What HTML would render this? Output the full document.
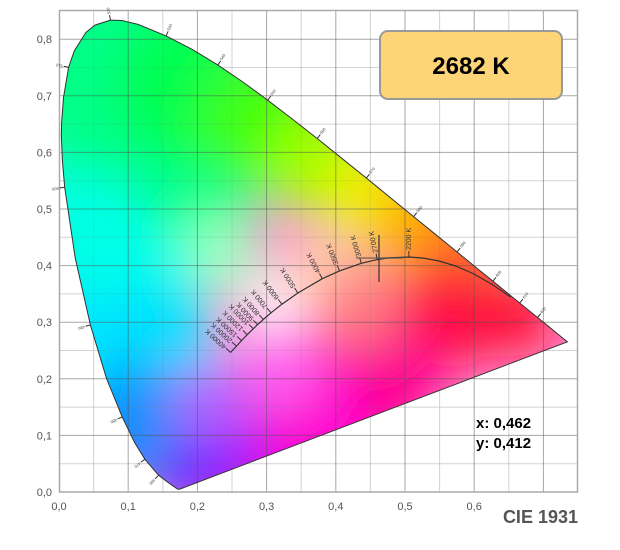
<!DOCTYPE html>
<html><head><meta charset="utf-8"><style>
html,body{margin:0;padding:0;background:#fff;}
svg{display:block;font-family:"Liberation Sans",sans-serif;}
</style></head><body>
<svg id="s" width="620" height="550" viewBox="0 0 620 550" xmlns="http://www.w3.org/2000/svg">
<defs>
<filter id="bl" x="-50%" y="-50%" width="200%" height="200%"><feGaussianBlur stdDeviation="24"/></filter>
<clipPath id="cp"><path id="cpp" d=""/></clipPath>
</defs>
<rect x="0" y="0" width="620" height="550" fill="#fff"/>
<g id="minor"></g>
<g clip-path="url(#cp)"><rect x="0" y="0" width="620" height="550" fill="#ff90d0"/><g id="blobs" filter="url(#bl)"></g></g>
<g id="major"></g>
<rect x="59.5" y="10.5" width="518" height="481.5" fill="none" stroke="#aaa" stroke-width="1.5"/>
<path id="locus" d="" fill="none" stroke="#333" stroke-width="1"/>
<g id="wl"></g>
<path id="planck" d="" fill="none" stroke="#333" stroke-width="1.2"/>
<g id="pl"></g>
<line x1="379" y1="235" x2="379" y2="282" stroke="#333" stroke-width="1.2"/>
<line x1="356" y1="258" x2="403" y2="258" stroke="#555" stroke-width="1.5" opacity="0.7"/>
<g id="labels" font-size="11" fill="#555"></g>
<rect x="380" y="31" width="182" height="68" rx="8" fill="#fed479" stroke="#999" stroke-width="2"/>
<text x="471" y="74" font-size="24" font-weight="bold" text-anchor="middle" fill="#000">2682 K</text>
<text x="476" y="428" font-size="15" font-weight="bold" fill="#000">x: 0,462</text>
<text x="476" y="448" font-size="15" font-weight="bold" fill="#000">y: 0,412</text>
<text x="578" y="523" font-size="18" font-weight="bold" text-anchor="end" fill="#555">CIE 1931</text>
</svg>
<script>
var NS="http://www.w3.org/2000/svg";
function X(x){return 59+x*692;} function Y(y){return 492-y*566;}
function el(p,t,a,txt){var e=document.createElementNS(NS,t);for(var k in a)e.setAttribute(k,a[k]);if(txt!=null)e.textContent=txt;document.getElementById(p).appendChild(e);return e;}
var L=[[380,.1741,.0050],[420,.1714,.0051],[440,.1644,.0109],[450,.1566,.0177],[460,.1440,.0297],[470,.1241,.0578],[475,.1096,.0868],[480,.0913,.1327],[485,.0687,.2007],[490,.0454,.2950],[495,.0235,.4127],[500,.0082,.5384],[502,.0049,.5850],[504,.0033,.6320],[505,.0039,.6548],[507,.0065,.6970],[510,.0139,.7502],[512,.0220,.7790],[515,.0389,.8120],[517,.0520,.8250],[520,.0743,.8338],[522,.0910,.8330],[525,.1142,.8262],[530,.1547,.8059],[535,.1929,.7816],[540,.2296,.7543],[545,.2658,.7243],[550,.3016,.6923],[555,.3373,.6589],[560,.3731,.6245],[565,.4087,.5896],[570,.4441,.5547],[575,.4788,.5202],[580,.5125,.4866],[585,.5448,.4544],[590,.5752,.4242],[595,.6029,.3965],[600,.6270,.3725],[610,.6658,.3340],[620,.6915,.3083],[630,.7079,.2920],[640,.7190,.2809],[700,.7347,.2653]];
var d="M"+L.map(function(p){return X(p[1]).toFixed(1)+","+Y(p[2]).toFixed(1);}).join(" L")+" Z";
document.getElementById("cpp").setAttribute("d",d);
document.getElementById("locus").setAttribute("d",d);
for(var i=1;i<15;i++){var x=X(i*0.05);if(x>577)break;el(i%2?"minor":"major","line",{x1:x,y1:10,x2:x,y2:492,stroke:i%2?"#e3e3e3":"rgba(80,80,80,0.5)","stroke-width":1});}
for(var i=1;i<18;i++){var y=Y(i*0.05);if(y<11)break;el(i%2?"minor":"major","line",{x1:59,y1:y,x2:578,y2:y,stroke:i%2?"#e3e3e3":"rgba(80,80,80,0.5)","stroke-width":1});}
for(var i=1;i<15;i+=2){var x=X(i*0.05);if(x>577)break;el("major","line",{x1:x,y1:10,x2:x,y2:492,stroke:"rgba(120,120,120,0.15)","stroke-width":1});}
for(var i=1;i<18;i+=2){var y=Y(i*0.05);if(y<11)break;el("major","line",{x1:59,y1:y,x2:578,y2:y,stroke:"rgba(120,120,120,0.15)","stroke-width":1});}
var B=[[.05,.3,"#00e8ff",60],[.05,.5,"#00ffe0",60],[.13,.42,"#00ffe8",55],[.13,.25,"#00e0ff",50],[.12,.12,"#0090ff",45],[.2,.58,"#00ff90",55],[.07,.75,"#00ff88",80],[.2,.72,"#00ff50",60],[.3,.65,"#40ff10",50],[.38,.58,"#a0ff00",40],[.45,.52,"#f0f000",35],[.52,.46,"#ffb000",35],[.58,.40,"#ff7000",35],[.66,.31,"#ff1030",30],[.56,.31,"#ff1040",40],[.45,.2,"#ff0090",50],[.35,.12,"#ff00d0",50],[.25,.05,"#a000ff",30],[.18,.03,"#6020ff",25],[.22,.16,"#b060ff",30],[.24,.42,"#a0ffc0",28],[.31,.33,"#ffffff",22],[.38,.39,"#ffd8a8",25],[.43,.33,"#ff8080",30],[.32,.22,"#ff60f0",30]];
B.forEach(function(b){el("blobs","circle",{cx:X(b[0]),cy:Y(b[1]),r:b[3]*1.35,fill:b[2]});});
var WL={460:1,470:1,480:1,490:1,500:1,510:1,520:1,530:1,540:1,550:1,560:1,570:1,580:1,590:1,600:1,610:1,620:1};
for(var k=1;k<L.length-1;k++){var p=L[k];if(!WL[p[0]])continue;var a=L[k-1],c=L[k+1];var tx=X(c[1])-X(a[1]),ty=Y(c[2])-Y(a[2]);var n=Math.hypot(tx,ty);var nx=ty/n,ny=-tx/n;
var px=X(p[1]),py=Y(p[2]);var cx=X(.33),cy=Y(.33);if((px-cx)*nx+(py-cy)*ny<0){nx=-nx;ny=-ny;}
el("wl","line",{x1:px,y1:py,x2:px+nx*5,y2:py+ny*5,stroke:"#333","stroke-width":1});
var ang=Math.atan2(ny,nx)*180/Math.PI;el("wl","text",{x:px+nx*6,y:py+ny*6,"font-size":4,fill:"#444",transform:"rotate("+ang+" "+(px+nx*6)+" "+(py+ny*6)+")","dominant-baseline":"middle"},String(p[0]));}
var P=[[1000,.6528,.3444],[1200,.6251,.3674],[1400,.5985,.3858],[1600,.5732,.3993],[1800,.5493,.4082],[2000,.5267,.4133],[2200,.5056,.4152],[2500,.4770,.4137],[2700,.4599,.4106],[3000,.4369,.4041],[3500,.4053,.3907],[4000,.3805,.3768],[5000,.3451,.3516],[6000,.3221,.3318],[7000,.3064,.3166],[8000,.2952,.3048],[9000,.2869,.2956],[10000,.2807,.2884],[12000,.2720,.2779],[15000,.2637,.2675],[20000,.2565,.2577],[40000,.2479,.2465]];
document.getElementById("planck").setAttribute("d","M"+P.map(function(p){return X(p[1]).toFixed(1)+","+Y(p[2]).toFixed(1);}).join(" L"));
var PL={2200:1,2700:1,3000:1,3500:1,4000:1,5000:1,6000:1,7000:1,8000:1,9000:1,10000:1,12000:1,15000:1,20000:1,40000:1};
for(var k=0;k<P.length;k++){var p=P[k];if(!PL[p[0]])continue;var a=P[Math.max(0,k-1)],c=P[Math.min(P.length-1,k+1)];var tx=X(c[1])-X(a[1]),ty=Y(c[2])-Y(a[2]);var n=Math.hypot(tx,ty);var nx=ty/n,ny=-tx/n;if(ny>0){nx=-nx;ny=-ny;}
var px=X(p[1]),py=Y(p[2]);el("pl","line",{x1:px,y1:py,x2:px+nx*6,y2:py+ny*6,stroke:"#333","stroke-width":1});
var ang=Math.atan2(ny,nx)*180/Math.PI;el("pl","text",{x:px+nx*7,y:py+ny*7,"font-size":7,fill:"#333",transform:"rotate("+ang+" "+(px+nx*7)+" "+(py+ny*7)+")","dominant-baseline":"middle"},p[0]+" K");}
for(var i=0;i<=6;i++){el("labels","text",{x:X(i/10),y:510,"text-anchor":"middle"},"0,"+i);}
for(var i=0;i<=8;i++){el("labels","text",{x:52,y:Y(i/10)+4,"text-anchor":"end"},"0,"+i);}
</script>
</body></html>
